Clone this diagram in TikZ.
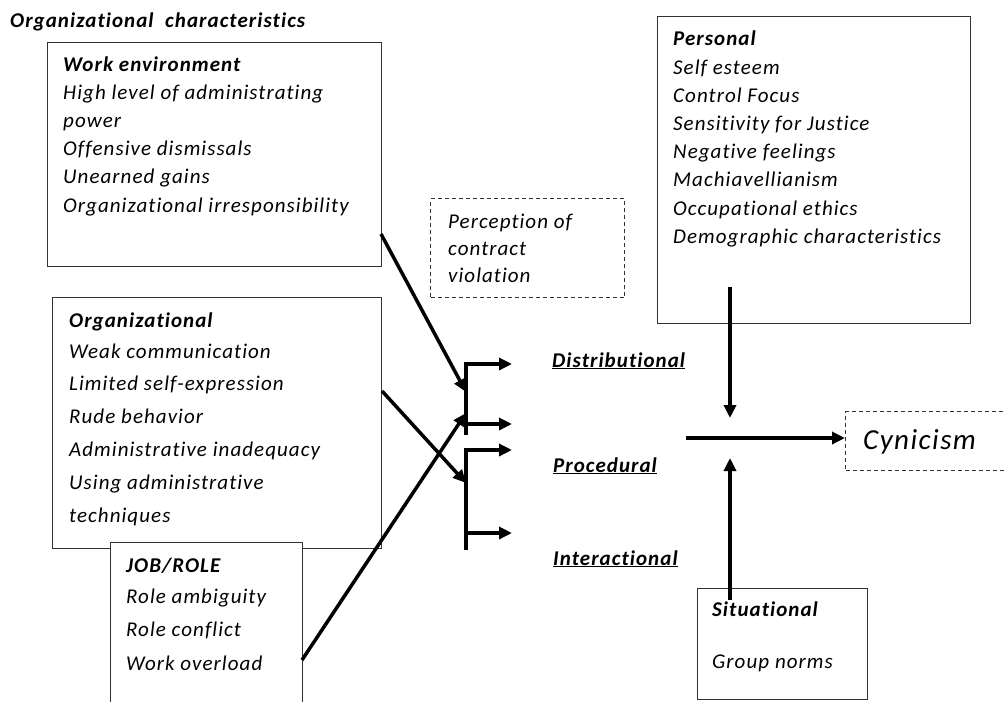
\documentclass[tikz,border=0pt]{standalone}
\usepackage{fontspec}
\setmainfont{Carlito}[LetterSpace=5, Ligatures={NoCommon}, RawFeature={-liga;-clig;-dlig}]
\usetikzlibrary{arrows.meta}
\tikzset{
  box/.style={draw=black!80, line width=1.3pt, fill=white, inner sep=0pt, anchor=north west},
  dbox/.style={draw=black!80, line width=1pt, dash pattern=on 4pt off 3pt, inner sep=0pt, anchor=north west},
  txt/.style={anchor=base west, inner sep=0pt, font=\fontsize{21}{24}\selectfont\itshape},
  head/.style={anchor=base west, inner sep=0pt, font=\fontsize{21}{24}\selectfont\bfseries\itshape},
  lab/.style={anchor=base west, inner sep=0pt, font=\fontsize{21}{24}\selectfont\bfseries\itshape},
  link/.style={line width=3.5pt, -{Triangle[length=13pt,width=12pt]}},
  bar/.style={line width=3.5pt, line join=miter},
}
\begin{document}
\begin{tikzpicture}[x=1pt,y=-1pt]
\useasboundingbox (0,0) rectangle (1005,702);
\clip (0,0) rectangle (1005,702);

% title
\node[anchor=base west, inner sep=0pt, font=\fontsize{21}{22}\selectfont\bfseries\itshape] (title) at (10,27) {Organizational\ \ characteristics};

% Work environment box
\node[box, minimum width=334pt, minimum height=224pt] (we) at (47,42) {};
\node[head] (weh) at (63,71) {Work environment};
\foreach \t [count=\i] in {High level of administrating, power, Offensive dismissals, Unearned gains, Organizational irresponsibility}
  \node[txt] (we\i) at (63,{99.2+28.2*(\i-1)}) {\t};

% Perception box
\node[dbox, minimum width=194pt, minimum height=99pt] (perc) at (430,198) {};
\foreach \t [count=\i] in {Perception of, contract, violation}
  \node[txt] (pc\i) at (448,{228+27*(\i-1)}) {\t};

% Personal box
\node[box, minimum width=313pt, minimum height=307pt] (pers) at (657,16) {};
\node[head] (persh) at (673,45) {Personal};
\foreach \t [count=\i] in {Self esteem, Control Focus, Sensitivity for Justice, Negative feelings, Machiavellianism, Occupational ethics, Demographic characteristics}
  \node[txt] (ps\i) at (673,{74+28.2*(\i-1)}) {\t};

% Organizational box
\node[box, minimum width=329pt, minimum height=251pt] (org) at (52,297) {};
\node[head] (orgh) at (69,327) {Organizational};
\foreach \t [count=\i] in {Weak communication, Limited self-expression, Rude behavior, Administrative inadequacy, Using administrative, techniques}
  \node[txt] (og\i) at (69,{358+32.9*(\i-1)}) {\t};

% JOB/ROLE box
\node[box, minimum width=192pt, minimum height=165pt] (job) at (110,542) {};
\node[head] (jobh) at (126,572) {JOB/ROLE};
\foreach \t [count=\i] in {Role ambiguity, Role conflict, Work overload}
  \node[txt] (jb\i) at (126,{603+33.5*(\i-1)}) {\t};

% Situational box
\node[box, minimum width=170pt, minimum height=111pt] (sit) at (697,588) {};
\node[head] (sith) at (712,616) {Situational};
\node[txt] (sit1) at (712,668) {Group norms};

% Cynicism box
\node[dbox, minimum width=175pt, minimum height=59pt] (cynbox) at (845,411) {};
\node[anchor=base west, inner sep=0pt, font=\fontsize{29}{32}\selectfont\itshape] (cyn) at (863,449) {Cynicism};

% justice labels
\node[lab] (dist) at (552,367) {\underline{Distributional}};
\node[lab] (proc) at (553,472) {\underline{Procedural}};
\node[lab] (inter) at (553,565) {\underline{Interactional}};

% bracket coordinates
\coordinate (u0) at (466,435);
\coordinate (u1) at (466,364);
\coordinate (u1e) at (512,364);
\coordinate (u2) at (466,424);
\coordinate (u2e) at (512,424);
\coordinate (l0) at (466,550);
\coordinate (l1) at (466,450);
\coordinate (l1e) at (512,450);
\coordinate (l2) at (466,533);
\coordinate (l2e) at (512,533);

\draw[bar, -{Triangle[length=13pt,width=12pt]}] (u0) -- (u1) -- (u1e);
\draw[link] (u2) -- (u2e);
\draw[bar, -{Triangle[length=13pt,width=12pt]}] (l0) -- (l1) -- (l1e);
\draw[link] (l2) -- (l2e);

% incoming arrows
\coordinate (w1) at (381,234);
\coordinate (b1) at (466,392);
\coordinate (o1) at (382,391);
\coordinate (b2) at (466,483);
\coordinate (j1) at (302,660);
\coordinate (b3) at (466,413);
\draw[link] (w1) -- (b1);
\draw[link] (o1) -- (b2);
\draw[link] (j1) -- (b3);

% right side arrows
\coordinate (p1) at (730,287);
\coordinate (p2) at (730,418);
\coordinate (h1) at (686,438);
\coordinate (s1) at (730,600);
\coordinate (s2) at (730,458);
\draw[link] (p1) -- (p2);
\draw[link] (h1) -- (cynbox.west |- h1);
\draw[link] (s1) -- (s2);
\end{tikzpicture}
\end{document}
